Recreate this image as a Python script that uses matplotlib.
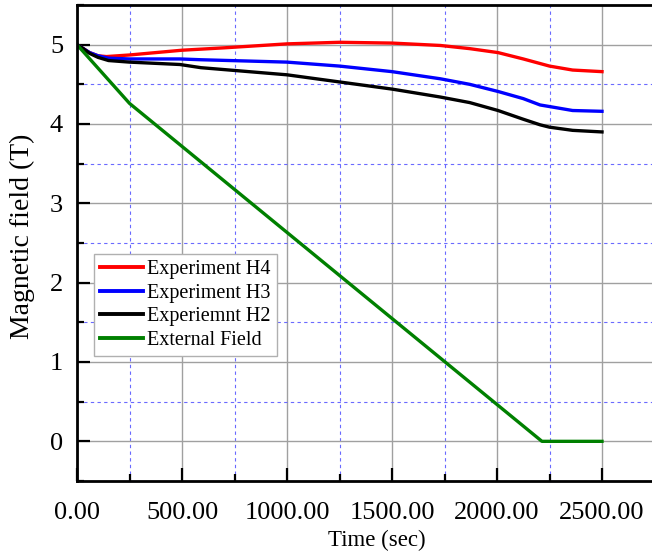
import matplotlib
matplotlib.use("Agg")
import matplotlib.pyplot as plt
from matplotlib.ticker import MultipleLocator, FormatStrFormatter

# ---- data ----
t_h4 = [0, 30, 60, 100, 140, 250, 500, 700, 1000, 1250, 1500, 1730, 1870, 2005, 2125, 2250, 2360, 2500]
h4 = [5.00, 4.95, 4.90, 4.86, 4.85, 4.87, 4.93, 4.96, 5.01, 5.03, 5.02, 4.99, 4.95, 4.90, 4.82, 4.73, 4.68, 4.66]

t_h3 = [0, 30, 60, 100, 150, 250, 490, 590, 1000, 1250, 1500, 1730, 1870, 2005, 2125, 2205, 2250, 2360, 2500]
h3 = [5.00, 4.95, 4.90, 4.86, 4.83, 4.82, 4.82, 4.81, 4.78, 4.73, 4.66, 4.57, 4.50, 4.41, 4.32, 4.24, 4.22, 4.17, 4.16]

t_h2 = [0, 30, 60, 100, 150, 250, 490, 590, 1000, 1250, 1500, 1730, 1870, 2005, 2125, 2205, 2250, 2360, 2500]
h2 = [5.00, 4.95, 4.89, 4.84, 4.80, 4.78, 4.75, 4.71, 4.62, 4.53, 4.44, 4.34, 4.27, 4.17, 4.06, 3.99, 3.96, 3.92, 3.90]

t_ext = [0, 250, 2214, 2500]
ext = [5.00, 4.26, 0.00, 0.00]

labels = ["Experiment H4", "Experiment H3", "Experiemnt H2", "External Field"]
colors = ["#ff0000", "#0000ff", "#000000", "#008000"]

xlabel = "Time (sec)"
ylabel = "Magnetic field (T)"

# ---- figure ----
W, H = 652, 553
fig = plt.figure(figsize=(W / 100, H / 100), dpi=100)
plt.rcParams["font.family"] = ["Liberation Serif", "DejaVu Serif"]

left_px, top_px, bottom_px = 77, 5, 481
xmax = 2800
px_per_unit = 0.21
ax_w = xmax * px_per_unit
ax_h = bottom_px - top_px
ax = fig.add_axes([left_px / W, (H - bottom_px) / H, ax_w / W, ax_h / H])

for t, y, lab, c in zip([t_h4, t_h3, t_h2, t_ext], [h4, h3, h2, ext], labels, colors):
    ax.plot(t, y, color=c, lw=2.4, label=lab, solid_joinstyle="round")

ax.set_xlim(0, xmax)
ax.set_ylim(-0.5, 5.5)

ax.xaxis.set_major_locator(MultipleLocator(500))
ax.xaxis.set_minor_locator(MultipleLocator(250))
ax.yaxis.set_major_locator(MultipleLocator(1))
ax.yaxis.set_minor_locator(MultipleLocator(0.5))
ax.xaxis.set_major_formatter(FormatStrFormatter("%.2f"))
ax.yaxis.set_major_formatter(FormatStrFormatter("%g"))

ax.grid(which="major", color="#a0a0a0", lw=1.0, ls="-")
ax.grid(which="minor", color="#6a6aff", lw=0.8, ls=(0, (3, 3)))
ax.set_axisbelow(True)

ax.tick_params(which="both", direction="in", top=False, right=False, labelsize=19)
ax.tick_params(which="major", length=9.5, width=1.6)
ax.tick_params(which="minor", length=5, width=1.6)
ax.tick_params(axis="x", which="major", pad=15)
ax.tick_params(axis="y", which="major", pad=10)

for s in ax.spines.values():
    s.set_linewidth(2.0)

ax.set_xlabel(xlabel, fontsize=16.5, va="center")
ax.set_ylabel(ylabel, fontsize=20, va="center")
ax.xaxis.set_label_coords((377 - left_px) / ax_w, (bottom_px - 540) / ax_h)
ax.yaxis.set_label_coords((22 - left_px) / ax_w, (bottom_px - 236) / ax_h)

leg = ax.legend(loc="upper left",
                bbox_to_anchor=(94 / W, (H - 254) / H), bbox_transform=fig.transFigure,
                fontsize=14.5, frameon=True, fancybox=False, framealpha=1.0,
                edgecolor="#b0b0b0", handlelength=2.15, handletextpad=0.2,
                labelspacing=0.22, borderpad=0.3, borderaxespad=0)
leg.get_frame().set_linewidth(1.0)
for l in leg.get_lines():
    l.set_linewidth(2.8)

fig.savefig("out.png", dpi=100)
